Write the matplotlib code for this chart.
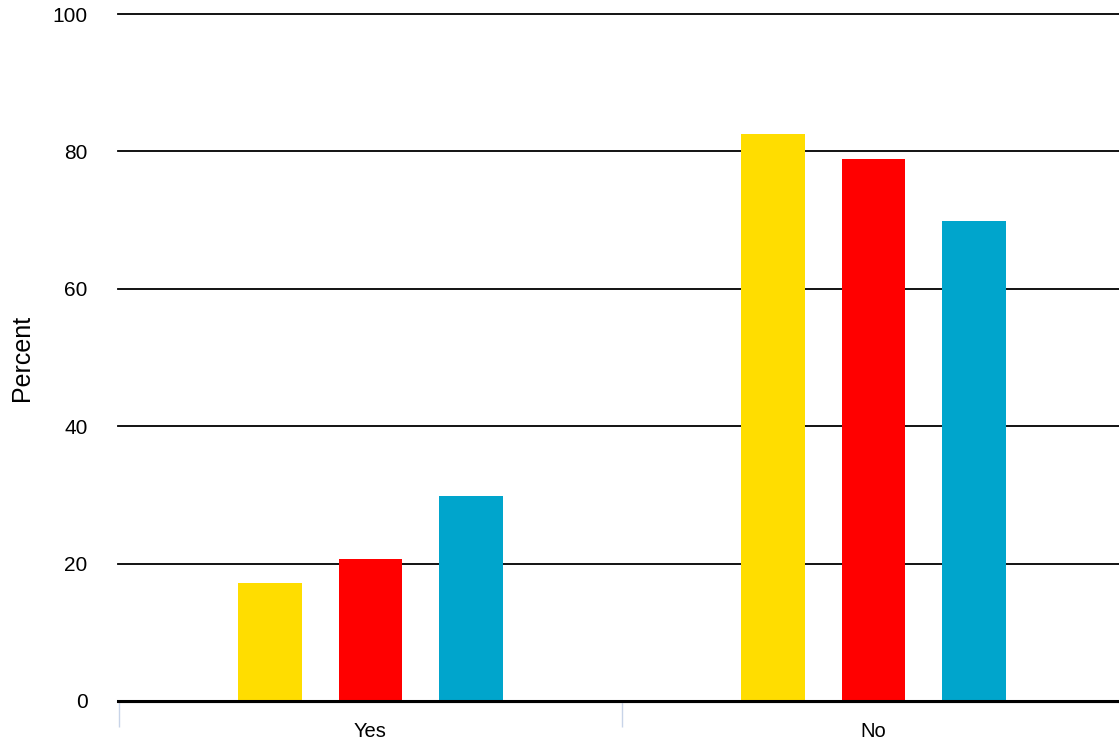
import numpy as np
import matplotlib.pyplot as plt

plt.rcParams["font.family"] = ["Liberation Sans", "DejaVu Sans"]

# -----------------------------
# Data
# -----------------------------
categories = ["Yes", "No"]
series_a = [17.2, 82.5]
series_b = [20.6, 78.9]
series_c = [29.8, 69.9]
colors = ["#FFDD00", "#FF0000", "#00A5CC"]
y_ticks = [0, 20, 40, 60, 80, 100]

# -----------------------------
# Figure
# -----------------------------
fig = plt.figure(figsize=(11.19, 7.42), dpi=100)
ax = fig.add_axes([118 / 1119, 41 / 742, 1 - 118 / 1119, 687 / 742])

x = np.arange(len(categories))
width = 0.126
for i, (vals, col) in enumerate(zip([series_a, series_b, series_c], colors)):
    ax.bar(x + (i - 1) * 0.2, vals, width, color=col, zorder=3)

ax.set_ylim(0, 100)
ax.set_xlim(-0.502, 1.488)

# grid lines
for t in y_ticks[1:]:
    ax.axhline(t, color="black", lw=1.3, zorder=1, clip_on=False)
ax.axhline(0, color="black", lw=2.2, zorder=5, clip_on=False)

for s in ax.spines.values():
    s.set_visible(False)
ax.spines["bottom"].set_visible(True)
ax.spines["bottom"].set_color("#C8C8C8")
ax.spines["bottom"].set_linewidth(1)
ax.spines["bottom"].set_position(("outward", 1))

ax.set_yticks(y_ticks)
ax.set_yticklabels([str(t) for t in y_ticks], fontsize=15)
ax.tick_params(axis="y", length=0, pad=22)

# category boundary ticks
ax.set_xticks([-0.5, 0.5], minor=False)
ax.set_xticklabels(["", ""])
ax.tick_params(axis="x", which="major", length=18, color="#C8D4E8", width=1)
ax.set_xticks(x, minor=True)
ax.set_xticklabels(categories, minor=True, fontsize=14.5)
ax.tick_params(axis="x", which="minor", length=0, pad=14)

fig.text(22 / 1119, 1 - 357.5 / 742, "Percent", fontsize=18, rotation=90,
         ha="center", va="center")

plt.savefig("out.png", dpi=100)
